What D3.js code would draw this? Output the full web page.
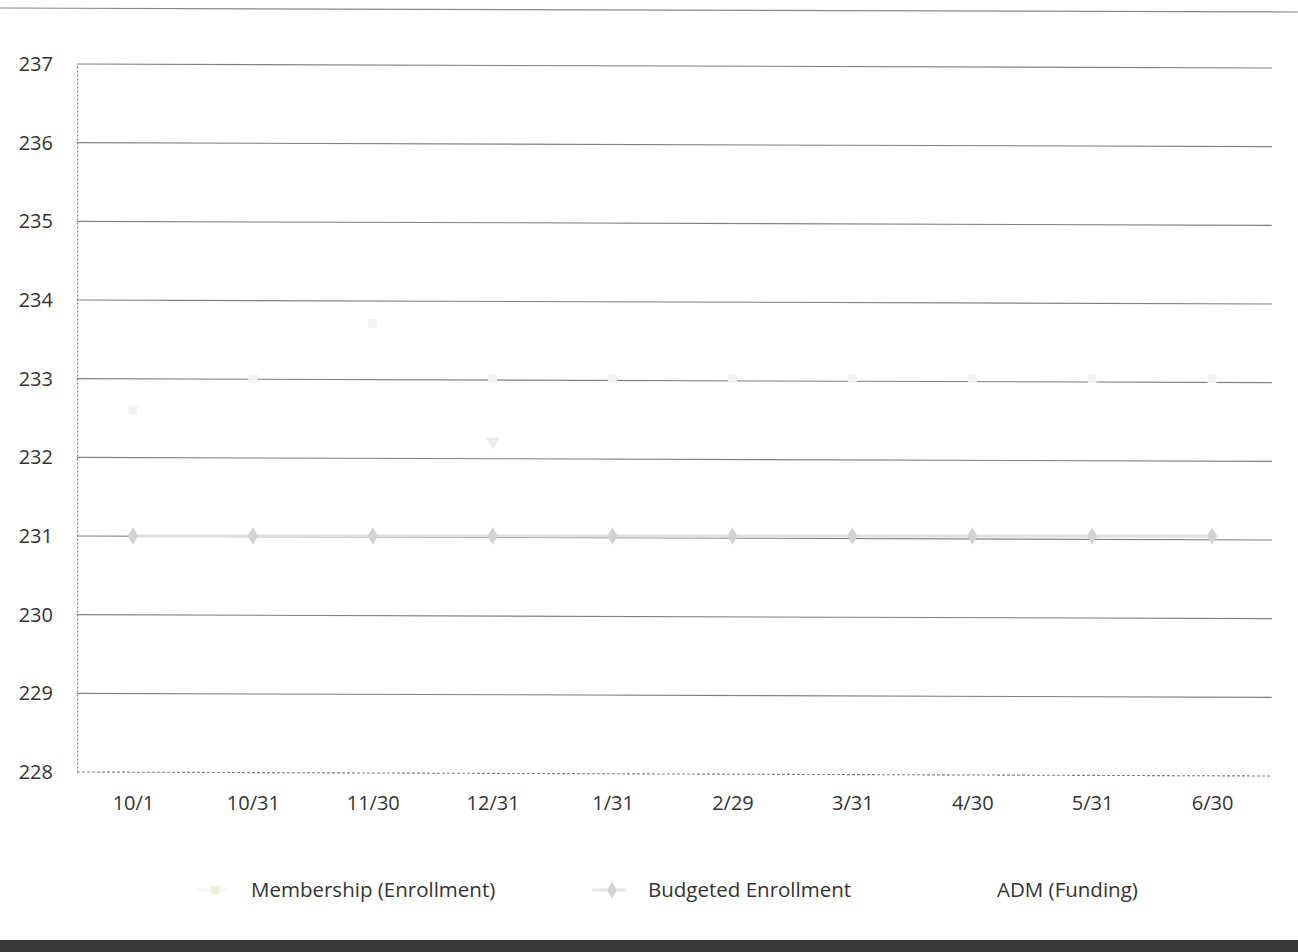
<!DOCTYPE html>
<html>
<head>
<meta charset="utf-8">
<script src="https://cdn.jsdelivr.net/npm/d3@7"></script>
<style>
  html, body { margin: 0; padding: 0; background: #fff; }
  svg { display: block; }
  text { font-family: "Open Sans", "Liberation Sans", sans-serif; fill: #333; }
</style>
</head>
<body>
<svg id="chart" width="1298" height="952"></svg>
<script>
const categories = ["10/1", "10/31", "11/30", "12/31", "1/31", "2/29", "3/31", "4/30", "5/31", "6/30"];
const membership = [232.6, 233.0, 233.7, 233.0, 233.0, 233.0, 233.0, 233.0, 233.0, 233.0];
const budgeted = [231, 231, 231, 231, 231, 231, 231, 231, 231, 231];
const adm = [null, null, null, 232.2, null, null, null, null, null, null];
const yTicks = [228, 229, 230, 231, 232, 233, 234, 235, 236, 237];
const seriesNames = ["Membership (Enrollment)", "Budgeted Enrollment", "ADM (Funding)"];

const svg = d3.select("#chart");
const W = 1298, H = 952;
const m = { left: 77, right: 1272, top: 64, bottom: 772 };

const x = d3.scalePoint().domain(categories).range([73, m.right]).padding(0.5);
const y = d3.scaleLinear().domain([228, 237]).range([m.bottom, m.top]);

// top border line
svg.append("line").attr("x1", 0).attr("x2", W).attr("y1", 8).attr("y2", 12)
  .attr("stroke", "#8a8a8a").attr("stroke-width", 1.2);

// gridlines
const grid = svg.append("g").attr("class", "grid");
grid.selectAll("line").data(yTicks).join("line")
  .attr("x1", m.left).attr("x2", m.right)
  .attr("y1", d => y(d)).attr("y2", d => y(d) + 4)
  .attr("stroke", "#808080").attr("stroke-width", 1.1)
  .attr("stroke-dasharray", d => d === 228 ? "3,2" : null);

// y axis
const yAxis = svg.append("g").attr("transform", `translate(${m.left},0)`)
  .call(d3.axisLeft(y).tickValues(yTicks).tickSize(0).tickPadding(24).tickFormat(d3.format("d")));
yAxis.select(".domain").attr("stroke", "#777").attr("stroke-dasharray", "2,2");
yAxis.selectAll("text").attr("font-size", 20).attr("fill", "#333");

// x axis
const xAxis = svg.append("g").attr("transform", `translate(0,${m.bottom})`)
  .call(d3.axisBottom(x).tickSize(0).tickPadding(24));
xAxis.select(".domain").remove();
xAxis.selectAll("text").attr("font-size", 20).attr("fill", "#333");

// budgeted line
const line = d3.line().defined(d => d != null).x((d, i) => x(categories[i])).y(d => y(d));
svg.append("path").datum(budgeted).attr("d", line)
  .attr("fill", "none").attr("stroke", "#e0e0e0").attr("stroke-width", 3);
svg.append("g").selectAll("path").data(budgeted).join("path")
  .attr("d", d3.symbol().type(d3.symbolDiamond).size(90))
  .attr("transform", (d, i) => `translate(${x(categories[i])},${y(d)})`)
  .attr("fill", "#d2d2d2");

// membership (very faint)
svg.append("g").selectAll("path").data(membership).join("path")
  .attr("d", d3.symbol().type(d3.symbolSquare).size(80))
  .attr("transform", (d, i) => `translate(${x(categories[i])},${y(d)})`)
  .attr("fill", "#f3f3f0");

// ADM (very faint)
svg.append("g").selectAll("path").data(adm.map((v, i) => ({ v, i })).filter(d => d.v != null)).join("path")
  .attr("d", d3.symbol().type(d3.symbolTriangle).size(80))
  .attr("transform", d => `translate(${x(categories[d.i])},${y(d.v)}) rotate(180)`)
  .attr("fill", "#ebebeb");

// legend
const legend = svg.append("g");
const lx = [215, 612, 960];
const tx = [251, 648, 997];
const ly = 890;
legend.append("line").attr("x1", lx[0] - 20).attr("x2", lx[0] + 14).attr("y1", ly).attr("y2", ly)
  .attr("stroke", "#f6f6ee").attr("stroke-width", 3);
legend.append("path").attr("d", d3.symbol().type(d3.symbolSquare).size(70))
  .attr("transform", `translate(${lx[0]},${ly})`).attr("fill", "#efeedd");
legend.append("line").attr("x1", lx[1] - 20).attr("x2", lx[1] + 14).attr("y1", ly).attr("y2", ly)
  .attr("stroke", "#e8e8e8").attr("stroke-width", 3);
legend.append("path").attr("d", d3.symbol().type(d3.symbolDiamond).size(80))
  .attr("transform", `translate(${lx[1]},${ly})`).attr("fill", "#d4d4d4");
legend.selectAll("text").data(seriesNames).join("text")
  .attr("x", (d, i) => tx[i]).attr("y", ly + 7)
  .attr("font-size", 20.5).attr("fill", "#333").text(d => d);

// scanned page bottom edge
svg.append("rect").attr("x", 0).attr("y", 940).attr("width", W).attr("height", 12).attr("fill", "#3a3a3a");
</script>
</body>
</html>
